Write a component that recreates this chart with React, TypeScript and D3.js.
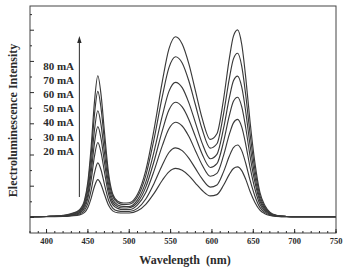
import React from "react";
import * as d3 from "d3";

// Emission wavelengths (nm) at which each spectrum is sampled
const wavelengths = [
  380, 400, 420, 430, 440, 446, 450, 454, 458, 462, 466, 470, 475, 480, 486,
  493, 500, 510, 520, 530, 540, 548, 556, 564, 572, 580, 588, 598, 606, 614,
  621, 626, 631, 636, 641, 646, 652, 658, 664, 670, 678, 690, 700, 750,
];

// Electroluminescence intensity (a.u.) per drive current
const el20 = [
  0.02, 0.02, 0.03, 0.05, 0.08, 0.16, 0.32, 0.62, 1.0, 1.21, 1.05, 0.74, 0.39, 0.21, 0.15,
  0.14, 0.14, 0.21, 0.42, 0.77, 1.19, 1.46, 1.57, 1.51, 1.34, 1.1, 0.87, 0.69, 0.73, 1.03,
  1.38, 1.57, 1.62, 1.5, 1.21, 0.84, 0.48, 0.23, 0.12, 0.06, 0.03, 0.02, 0.02, 0.02,
];
const el30 = [
  0.02, 0.03, 0.04, 0.06, 0.11, 0.23, 0.45, 0.88, 1.43, 1.75, 1.51, 1.06, 0.55, 0.3, 0.21,
  0.19, 0.19, 0.29, 0.59, 1.09, 1.68, 2.08, 2.23, 2.14, 1.9, 1.57, 1.24, 0.97, 1.04, 1.46,
  1.96, 2.24, 2.32, 2.14, 1.72, 1.2, 0.68, 0.32, 0.16, 0.08, 0.04, 0.02, 0.02, 0.02,
];
const el40 = [
  0.02, 0.03, 0.04, 0.07, 0.14, 0.3, 0.62, 1.21, 1.97, 2.4, 2.07, 1.46, 0.75, 0.41, 0.29,
  0.25, 0.25, 0.4, 0.8, 1.49, 2.3, 2.84, 3.05, 2.93, 2.6, 2.14, 1.69, 1.32, 1.41, 1.98,
  2.66, 3.03, 3.14, 2.9, 2.32, 1.62, 0.91, 0.42, 0.21, 0.1, 0.04, 0.03, 0.02, 0.02,
];
const el50 = [
  0.02, 0.03, 0.05, 0.08, 0.16, 0.37, 0.74, 1.46, 2.39, 2.91, 2.51, 1.77, 0.91, 0.49, 0.34,
  0.3, 0.31, 0.48, 0.97, 1.8, 2.78, 3.44, 3.69, 3.54, 3.14, 2.59, 2.04, 1.6, 1.72, 2.42,
  3.26, 3.72, 3.85, 3.55, 2.85, 1.98, 1.12, 0.52, 0.25, 0.12, 0.05, 0.03, 0.02, 0.02,
];
const el60 = [
  0.02, 0.03, 0.05, 0.09, 0.19, 0.43, 0.87, 1.72, 2.81, 3.42, 2.95, 2.08, 1.07, 0.57, 0.4,
  0.35, 0.35, 0.56, 1.13, 2.11, 3.26, 4.04, 4.33, 4.16, 3.68, 3.04, 2.39, 1.88, 2.02, 2.85,
  3.83, 4.38, 4.53, 4.18, 3.36, 2.33, 1.31, 0.6, 0.29, 0.13, 0.05, 0.03, 0.02, 0.02,
];
const el70 = [
  0.02, 0.03, 0.06, 0.11, 0.22, 0.5, 1.03, 2.03, 3.31, 4.04, 3.48, 2.45, 1.26, 0.67, 0.47,
  0.41, 0.42, 0.66, 1.34, 2.51, 3.88, 4.8, 5.15, 4.95, 4.38, 3.61, 2.84, 2.22, 2.36, 3.32,
  4.45, 5.08, 5.26, 4.85, 3.89, 2.7, 1.52, 0.7, 0.33, 0.15, 0.06, 0.03, 0.02, 0.02,
];
const el80 = [
  0.02, 0.03, 0.07, 0.12, 0.25, 0.56, 1.15, 2.28, 3.72, 4.54, 3.91, 2.75, 1.41, 0.75, 0.52,
  0.46, 0.47, 0.74, 1.51, 2.82, 4.36, 5.4, 5.79, 5.56, 4.93, 4.06, 3.19, 2.5, 2.68, 3.78,
  5.09, 5.81, 6.01, 5.55, 4.45, 3.09, 1.74, 0.8, 0.38, 0.17, 0.07, 0.03, 0.02, 0.02,
];

const spectra = [el20, el30, el40, el50, el60, el70, el80];

// Legend entries, listed top to bottom
const currentLabels = ["80 mA", "70 mA", "60 mA", "50 mA", "40 mA", "30 mA", "20 mA"];

// Axis ticks
const xTickLabels = [400, 450, 500, 550, 600, 650, 700, 750];
const xMinorTicks = d3.range(380, 751, 10);
const yMajorTicks = d3.range(0, 7, 1);
const yMinorTicks = d3.range(0.5, 7, 1);

const W = 344;
const H = 267;
const left = 30;
const right = 336;
const top = 6;
const bottom = 233;

const ink = "#2b2b2b";
const serif = "'Liberation Serif', 'DejaVu Serif', serif";

export default function App() {
  const x = d3.scaleLinear().domain([380, 750]).range([left, right]);
  const y = d3.scaleLinear().domain([-0.5, 6.776]).range([bottom, top]);

  const line = d3
    .line<number>()
    .x((_, i) => x(wavelengths[i]))
    .y((d) => y(d))
    .curve(d3.curveMonotoneX);

  const arrowX = x(439.7);
  const arrowTop = 36;
  const arrowBottom = 197;

  return (
    <svg
      width={W}
      height={H}
      style={{ position: "absolute", left: 0, top: 0, background: "#fff" }}
    >
      {/* spectra */}
      <g fill="none" stroke="#3a3a3a" strokeWidth={1.15}>
        {spectra.map((s, i) => (
          <path key={i} d={line(s) || ""} />
        ))}
      </g>

      {/* frame */}
      <rect
        x={left}
        y={top}
        width={right - left}
        height={bottom - top}
        fill="none"
        stroke="#444"
        strokeWidth={1}
      />

      {/* ticks (inward) */}
      <g stroke={ink} strokeWidth={1}>
        {xMinorTicks.map((t) => (
          <line key={"xm" + t} x1={x(t)} x2={x(t)} y1={bottom} y2={bottom - 2} />
        ))}
        {xTickLabels.map((t) => (
          <line key={"xM" + t} x1={x(t)} x2={x(t)} y1={bottom} y2={bottom - 4} />
        ))}
        {yMinorTicks.map((t) => (
          <line key={"ym" + t} x1={left} x2={left + 2} y1={y(t)} y2={y(t)} />
        ))}
        {yMajorTicks.map((t) => (
          <line key={"yM" + t} x1={left} x2={left + 4} y1={y(t)} y2={y(t)} />
        ))}
      </g>

      {/* x tick labels */}
      <g
        fontFamily={serif}
        fontWeight="bold"
        fontSize={8.5}
        fill={ink}
        textAnchor="middle"
      >
        {xTickLabels.map((t) => (
          <text key={t} x={x(t)} y={244}>
            {t}
          </text>
        ))}
      </g>

      {/* axis titles */}
      <text
        x={185}
        y={263.5}
        fontFamily={serif}
        fontWeight="bold"
        fontSize={12}
        fill={ink}
        textAnchor="middle"
        style={{ whiteSpace: "pre" }}
      >
        {"Wavelength  (nm)"}
      </text>
      <text
        transform={`translate(17,120.5) rotate(-90)`}
        fontFamily={serif}
        fontWeight="bold"
        fontSize={12}
        fill={ink}
        textAnchor="middle"
      >
        Electroluminescence Intensity
      </text>

      {/* current legend and arrow */}
      <g
        fontFamily={serif}
        fontWeight="bold"
        fontSize={11}
        fill={ink}
        textAnchor="end"
      >
        {currentLabels.map((c, i) => (
          <text key={c} x={74} y={70 + i * 14.1}>
            {c}
          </text>
        ))}
      </g>
      <line
        x1={arrowX}
        x2={arrowX}
        y1={arrowBottom}
        y2={arrowTop + 5}
        stroke={ink}
        strokeWidth={1}
      />
      <path
        d={`M${arrowX},${arrowTop} L${arrowX - 2.2},${arrowTop + 7} L${arrowX + 2.2},${arrowTop + 7} Z`}
        fill={ink}
      />
    </svg>
  );
}
